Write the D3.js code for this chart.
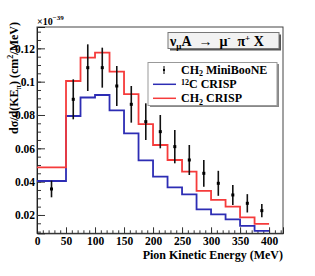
<!DOCTYPE html>
<html>
  <body style="margin:0">
    <style>
      svg text {
        font-family: "Liberation Serif", "DejaVu Serif", serif;
        font-weight: bold;
      }
    </style>
    <script src="https://d3js.org/d3.v7.min.js"></script>
    <script type="text/javascript">

      // bin edges of the histograms (MeV)
      const binEdges = [0, 50, 75, 100, 125, 150, 175, 200, 225, 250, 275, 300, 325, 350, 375, 400];
      // 12C CRISP (blue) and CH2 CRISP (red), x1e-39 cm2/MeV
      const crispC12 = [0.0404, 0.0794, 0.0905, 0.092, 0.0828, 0.069, 0.0528, 0.043, 0.0366, 0.0324, 0.0234, 0.0204, 0.0174, 0.0134, 0.0104];
      const crispCH2 = [0.0486, 0.1004, 0.1144, 0.1174, 0.106, 0.0925, 0.0745, 0.062, 0.053, 0.046, 0.0344, 0.029, 0.025, 0.0186, 0.0146];
      // CH2 MiniBooNE data
      const dataKE = [25, 62.5, 87.5, 112.5, 137.5, 162.5, 187.5, 212.5, 237.5, 262.5, 287.5, 312.5, 337.5, 362.5, 387.5];
      const dataVal = [0.0356, 0.0894, 0.1084, 0.1084, 0.0974, 0.0864, 0.076, 0.070, 0.061, 0.053, 0.045, 0.039, 0.032, 0.027, 0.0226];
      const dataErr = [0.005, 0.012, 0.014, 0.012, 0.012, 0.011, 0.011, 0.010, 0.010, 0.009, 0.008, 0.0075, 0.006, 0.0055, 0.004];

      const xTicks = [0, 50, 100, 150, 200, 250, 300, 350, 400];
      const yTicks = [0.02, 0.04, 0.06, 0.08, 0.1, 0.12];
      const yTickLabels = ['0.02', '0.04', '0.06', '0.08', '0.1', '0.12'];

      const blue = '#2d2db4';
      const red = '#f53b3b';

      const width = 315;
      const height = 276;
      const plotL = 37, plotR = 283, plotT = 27, plotB = 233.3;

      const svg = d3.select('body')
        .append('svg')
        .attr('width', width)
        .attr('height', height);

      const x = d3.scaleLinear().domain([0, 424]).range([plotL, plotR]);
      const y = d3.scaleLinear().domain([0.009, 0.1328]).range([plotB, plotT]);

      // frame
      svg.append('rect')
        .attr('x', plotL).attr('y', plotT)
        .attr('width', plotR - plotL).attr('height', plotB - plotT)
        .attr('fill', 'white')
        .attr('stroke', '#444')
        .attr('stroke-width', 1);

      // axes: ticks point inside
      const xMinor = d3.range(0, 421, 10);
      svg.append('g')
        .attr('transform', `translate(0, ${plotB})`)
        .call(d3.axisBottom(x).tickValues(xMinor).tickSize(-3).tickFormat(''))
        .call((g) => g.select('.domain').remove());
      svg.append('g')
        .attr('class', 'xaxis')
        .attr('transform', `translate(0, ${plotB})`)
        .call(d3.axisBottom(x).tickValues(xTicks).tickSize(-6).tickPadding(4))
        .call((g) => g.select('.domain').attr('stroke', '#222'));

      const yMinor = d3.range(0.01, 0.1326, 0.005);
      svg.append('g')
        .attr('transform', `translate(${plotL}, 0)`)
        .call(d3.axisLeft(y).tickValues(yMinor).tickSize(-4).tickFormat(''))
        .call((g) => g.select('.domain').remove());
      svg.append('g')
        .attr('class', 'yaxis')
        .attr('transform', `translate(${plotL}, 0)`)
        .call(d3.axisLeft(y).tickValues(yTicks).tickSize(-8).tickPadding(2)
          .tickFormat((d, i) => yTickLabels[i]))
        .call((g) => g.select('.domain').attr('stroke', '#222'));

      svg.selectAll('.xaxis text, .yaxis text')
        .attr('font-size', 11.5)
        .attr('font-family', '"Liberation Serif", serif')
        .attr('font-weight', 'bold')
        .attr('fill', 'black');
      svg.selectAll('.tick line').attr('stroke', '#333');

      // histograms
      const histLine = d3.line()
        .x((d) => x(d[0]))
        .y((d) => y(d[1]))
        .curve(d3.curveStepAfter);

      const toSteps = (vals) => binEdges.map((e, i) => [e, vals[Math.min(i, vals.length - 1)]]);

      svg.append('path')
        .attr('d', histLine(toSteps(crispC12)))
        .attr('fill', 'none')
        .attr('stroke', blue)
        .attr('stroke-width', 1.8);

      svg.append('path')
        .attr('d', histLine(toSteps(crispCH2)))
        .attr('fill', 'none')
        .attr('stroke', red)
        .attr('stroke-width', 1.8);

      // data points with error bars
      const pts = svg.append('g').selectAll('g')
        .data(dataKE)
        .enter()
        .append('g');
      pts.append('line')
        .attr('x1', (d) => x(d)).attr('x2', (d) => x(d))
        .attr('y1', (d, i) => y(dataVal[i] + dataErr[i]))
        .attr('y2', (d, i) => y(dataVal[i] - dataErr[i]))
        .attr('stroke', '#111')
        .attr('stroke-width', 1.6);
      pts.append('rect')
        .attr('x', (d) => x(d) - 1.5)
        .attr('y', (d, i) => y(dataVal[i]) - 1.5)
        .attr('width', 3).attr('height', 3)
        .attr('fill', 'black');

      // x10^-39
      const exp = svg.append('text')
        .attr('x', plotL).attr('y', 25)
        .attr('font-size', 10);
      exp.append('tspan').text('\u00d710');
      exp.append('tspan').attr('dy', -5).attr('font-size', 7).text('\u221239');

      // axis titles
      const yt = svg.append('text')
        .attr('transform', 'translate(18, 22) rotate(-90)')
        .attr('text-anchor', 'end')
        .attr('font-size', 12);
      yt.append('tspan').text('d\u03c3/d(KE');
      yt.append('tspan').attr('dy', 3).attr('font-size', 8).text('\u03c0');
      yt.append('tspan').attr('dy', -3).text(') (cm');
      yt.append('tspan').attr('dy', -5).attr('font-size', 8).text('2');
      yt.append('tspan').attr('dy', 5).text('/MeV)');

      svg.append('text')
        .attr('x', plotR).attr('y', 259)
        .attr('text-anchor', 'end')
        .attr('font-size', 12)
        .text('Pion Kinetic Energy (MeV)');

      // process box
      svg.append('rect')
        .attr('x', 170).attr('y', 34.5).attr('width', 111).attr('height', 16)
        .attr('fill', '#555');
      svg.append('rect')
        .attr('x', 168).attr('y', 32.5).attr('width', 111).attr('height', 16)
        .attr('fill', '#f2f2f2').attr('stroke', '#777').attr('stroke-width', 1);
      const pt = svg.append('text')
        .attr('x', 170).attr('y', 45.5)
        .attr('font-size', 14);
      pt.append('tspan').text('\u03bd');
      pt.append('tspan').attr('dy', 3).attr('font-size', 9).text('\u03bc');
      pt.append('tspan').attr('dy', -3).text('A\u00a0\u00a0\u2192\u00a0\u00a0\u03bc');
      pt.append('tspan').attr('dy', -5).attr('font-size', 9).text('-');
      pt.append('tspan').attr('dy', 5).text('\u00a0\u00a0\u03c0');
      pt.append('tspan').attr('dy', -5).attr('font-size', 9).text('+');
      pt.append('tspan').attr('dy', 5).text('\u00a0X');

      // legend
      svg.append('rect')
        .attr('x', 150).attr('y', 64).attr('width', 129).attr('height', 43)
        .attr('fill', '#888');
      svg.append('rect')
        .attr('x', 148).attr('y', 62.5).attr('width', 129).attr('height', 43)
        .attr('fill', 'white').attr('stroke', '#999').attr('stroke-width', 1);

      const rowY = [70, 84.3, 98.3];
      svg.append('line')
        .attr('x1', 164).attr('x2', 164).attr('y1', rowY[0] - 4).attr('y2', rowY[0] + 4)
        .attr('stroke', 'black').attr('stroke-width', 1);
      svg.append('rect')
        .attr('x', 163).attr('y', rowY[0] - 1).attr('width', 2).attr('height', 2)
        .attr('fill', 'black');
      [blue, red].forEach((c, i) => {
        svg.append('line')
          .attr('x1', 153).attr('x2', 176)
          .attr('y1', rowY[i + 1]).attr('y2', rowY[i + 1])
          .attr('stroke', c).attr('stroke-width', 1.5);
      });

      const lg = svg.append('g').attr('font-size', 12);
      const t0 = lg.append('text').attr('x', 181).attr('y', rowY[0] + 3.5);
      t0.append('tspan').text('CH');
      t0.append('tspan').attr('dy', 2.5).attr('font-size', 8).text('2');
      t0.append('tspan').attr('dy', -2.5).text(' MiniBooNE');
      const t1 = lg.append('text').attr('x', 181).attr('y', rowY[1] + 4);
      t1.append('tspan').attr('dy', -3).attr('font-size', 8).text('12');
      t1.append('tspan').attr('dy', 3).text('C CRISP');
      const t2 = lg.append('text').attr('x', 181).attr('y', rowY[2] + 4);
      t2.append('tspan').text('CH');
      t2.append('tspan').attr('dy', 2.5).attr('font-size', 8).text('2');
      t2.append('tspan').attr('dy', -2.5).text(' CRISP');

    </script>
  </body>
</html>
